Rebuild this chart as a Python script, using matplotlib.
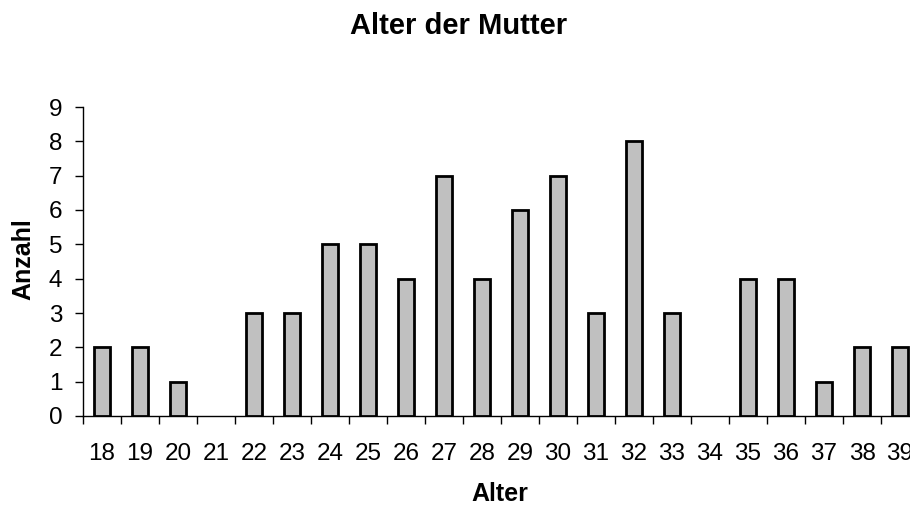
import matplotlib
matplotlib.use("Agg")
import matplotlib.pyplot as plt
import numpy as np

plt.rcParams['font.family'] = ['Liberation Sans', 'DejaVu Sans']

ages = [str(a) for a in range(18, 40)]
counts = [2, 2, 1, 0, 3, 3, 5, 5, 4, 7, 4, 6, 7, 3, 8, 3, 0, 4, 4, 1, 2, 2]
yticks = list(range(0, 10))

W, H = 910, 509
fig = plt.figure(figsize=(W/100, H/100), dpi=100)
ax = fig.add_axes([83/W, 1-416/H, (919-83)/W, (416-107)/H])

x = np.arange(len(ages))
bars = ax.bar(x, counts, width=0.42, color='#c0c0c0', edgecolor='black', linewidth=2, zorder=3)
for b, c in zip(bars, counts):
    if c == 0:
        b.set_visible(False)

ax.set_xlim(-0.5, len(ages) - 0.5)
ax.set_ylim(0, 9)
ax.set_yticks(yticks)
ax.set_yticklabels([str(v) for v in yticks], fontsize=17.5)
ax.set_xticks(np.arange(-0.5, len(ages), 1.0))
ax.set_xticklabels([])
ax.set_xticks(x, minor=True)
ax.set_xticklabels(ages, minor=True, fontsize=17.5)
ax.tick_params(axis='x', which='minor', length=0, pad=19.5)
ax.tick_params(axis='x', which='major', length=6, direction='out', width=1)
ax.tick_params(axis='y', length=6, direction='out', width=1, pad=9)

for s in ['top', 'right']:
    ax.spines[s].set_visible(False)
for s in ['left', 'bottom']:
    ax.spines[s].set_linewidth(1)

fig.text(500/W, 1-494/H, 'Alter', ha='center', va='center', fontsize=18, fontweight='bold')
fig.text(23/W, 1-259/H, 'Anzahl', ha='center', va='center', rotation=90, fontsize=18, fontweight='bold')
fig.text(459/W, 1-26/H, 'Alter der Mutter', ha='center', va='center', fontsize=21, fontweight='bold')

fig.savefig('out.png', dpi=100)
